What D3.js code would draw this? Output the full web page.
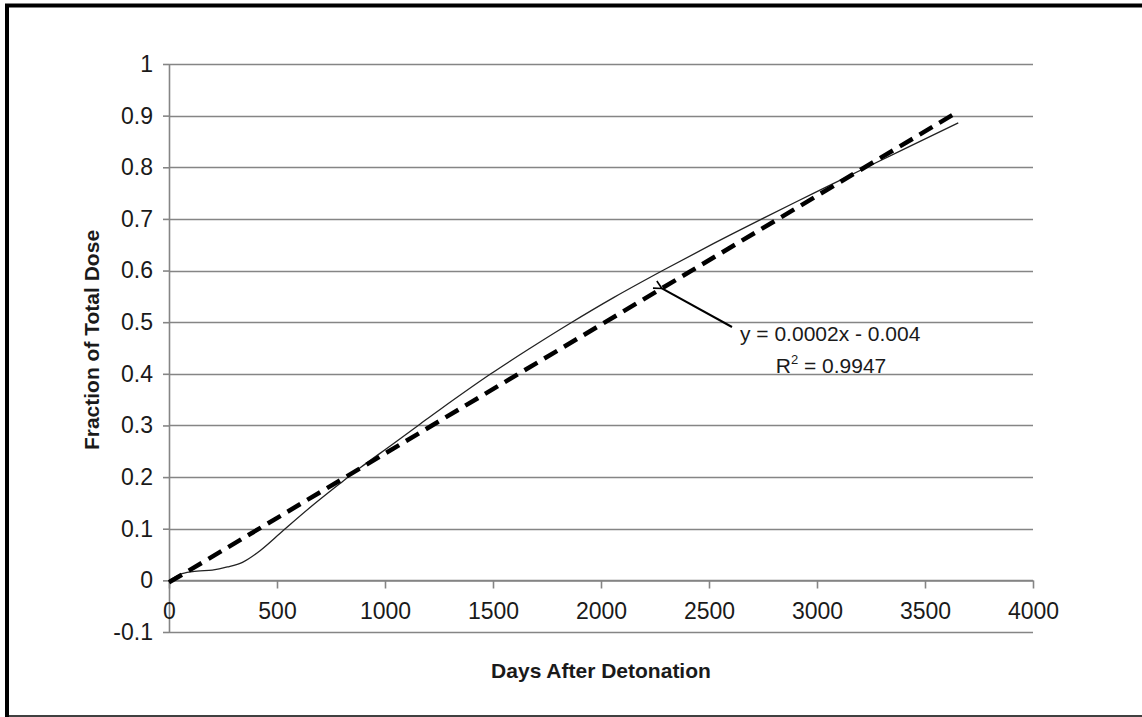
<!DOCTYPE html>
<html>
<head>
<meta charset="utf-8">
<script src="https://cdn.jsdelivr.net/npm/d3@7"></script>
<style>
  body { margin: 0; background: #fff; }
  text { font-family: Arial, "Liberation Sans", sans-serif; fill: #1a1a1a; }
</style>
</head>
<body>
<div id="viz"></div>
<script>
(function() {
  var days, doseFraction, trendDays, trendFraction, xTicks, yTicks, yTickLabels, trendEquation, trendR2Value, xTitle, yTitle,
      width, height, svg, x, y, line, xAxis, yAxis, gridColor, arrowTip, labelAnchor, r2;

  // measured fraction of total dose vs days
  days = [0, 60, 130, 200, 270, 340, 420, 530, 650, 790, 885, 1040, 1160, 1255, 1490, 1670, 1850, 2060, 2290, 2520, 2750, 2990, 3230, 3654];
  doseFraction = [0, 0.013, 0.018, 0.020, 0.026, 0.035, 0.057, 0.097, 0.140, 0.187, 0.218, 0.265, 0.302, 0.331, 0.400, 0.449, 0.496, 0.548, 0.601, 0.652, 0.701, 0.751, 0.800, 0.886];

  // linear trendline end points
  trendDays = [0, 3654];
  trendFraction = [-0.004, 0.908];

  xTicks = [0, 500, 1000, 1500, 2000, 2500, 3000, 3500, 4000];
  yTicks = [-0.1, 0, 0.1, 0.2, 0.3, 0.4, 0.5, 0.6, 0.7, 0.8, 0.9, 1];
  yTickLabels = ["-0.1", "0", "0.1", "0.2", "0.3", "0.4", "0.5", "0.6", "0.7", "0.8", "0.9", "1"];

  trendEquation = "y = 0.0002x - 0.004";
  trendR2Value = " = 0.9947";
  xTitle = "Days After Detonation";
  yTitle = "Fraction of Total Dose";

  width = 1142;
  height = 717;
  gridColor = "#858585";

  svg = d3.select("#viz").append("svg").attr("width", width).attr("height", height);

  // frame
  svg.append("line").attr("x1", 5).attr("x2", width).attr("y1", 5.5).attr("y2", 5.5).style("stroke", "#000").style("stroke-width", 4);
  svg.append("line").attr("x1", 7).attr("x2", 7).attr("y1", 4).attr("y2", height).style("stroke", "#000").style("stroke-width", 4);
  svg.append("line").attr("x1", 5).attr("x2", width).attr("y1", 716).attr("y2", 716).style("stroke", "#000").style("stroke-width", 1.5);

  x = d3.scaleLinear().domain([0, 4000]).range([169, 1033]);
  y = d3.scaleLinear().domain([-0.1, 1]).range([632, 64]);

  // horizontal gridlines
  svg.append("g").selectAll("line").data(yTicks).enter().append("line")
    .attr("x1", x(0)).attr("x2", x(4000))
    .attr("y1", function(d) { return Math.round(y(d)) + 0.5; })
    .attr("y2", function(d) { return Math.round(y(d)) + 0.5; })
    .style("stroke", gridColor).style("stroke-width", 1.6);

  yAxis = svg.append("g").attr("transform", "translate(" + x(0) + ",0)")
    .call(d3.axisLeft(y).tickValues(yTicks).tickSize(6).tickSizeOuter(0).tickPadding(10)
      .tickFormat(function(d, i) { return yTickLabels[i]; }));

  xAxis = svg.append("g").attr("transform", "translate(0," + (Math.round(y(0)) + 0.5) + ")")
    .call(d3.axisBottom(x).tickValues(xTicks).tickSize(8).tickSizeOuter(0).tickPadding(14)
      .tickFormat(d3.format("d")));

  [xAxis, yAxis].forEach(function(g) {
    g.selectAll("path, line").style("stroke", gridColor).style("stroke-width", 1.6);
    g.selectAll("text").style("font-size", "23px").style("font-family", "Arial, 'Liberation Sans', sans-serif").style("fill", "#1a1a1a");
  });

  line = d3.line()
    .x(function(d) { return x(d[0]); })
    .y(function(d) { return y(d[1]); });

  // measured curve
  svg.append("path")
    .datum(d3.zip(days, doseFraction))
    .attr("d", line.curve(d3.curveCatmullRom.alpha(0.5)))
    .style("fill", "none").style("stroke", "#222").style("stroke-width", 1.3);

  // trendline
  svg.append("path")
    .datum(d3.zip(trendDays, trendFraction))
    .attr("d", d3.line().x(function(d) { return x(d[0]); }).y(function(d) { return y(d[1]); }))
    .style("fill", "none").style("stroke", "#000").style("stroke-width", 4.5)
    .style("stroke-dasharray", "15,8");

  // annotation with leader line
  svg.append("defs").append("marker")
    .attr("id", "tip").attr("viewBox", "0 0 10 10").attr("refX", 1).attr("refY", 5)
    .attr("markerWidth", 5).attr("markerHeight", 5).attr("orient", "auto-start-reverse")
    .append("path").attr("d", "M9,1 L1,5 L9,9").style("fill", "none").style("stroke", "#000").style("stroke-width", 1.6);

  arrowTip = [2282, -0.004 + 0.0002495 * 2282];
  labelAnchor = [732, 327];
  svg.append("line")
    .attr("x1", x(arrowTip[0])).attr("y1", y(arrowTip[1]))
    .attr("x2", labelAnchor[0]).attr("y2", labelAnchor[1])
    .attr("marker-start", "url(#tip)")
    .style("stroke", "#000").style("stroke-width", 2);

  svg.append("text").attr("x", 740).attr("y", 341).style("font-size", "21px").text(trendEquation);

  r2 = svg.append("text").attr("x", 831).attr("y", 373).attr("text-anchor", "middle").style("font-size", "21px");
  r2.append("tspan").text("R");
  r2.append("tspan").attr("dy", -9).style("font-size", "13px").text("2");
  r2.append("tspan").attr("dy", 9).text(trendR2Value);

  // axis titles
  svg.append("text").attr("x", 601).attr("y", 678).attr("text-anchor", "middle")
    .style("font-size", "21px").style("font-weight", "bold").text(xTitle);

  svg.append("text").attr("transform", "translate(99,340) rotate(-90)").attr("text-anchor", "middle")
    .style("font-size", "21px").style("font-weight", "bold").text(yTitle);

}).call(this);
</script>
</body>
</html>
